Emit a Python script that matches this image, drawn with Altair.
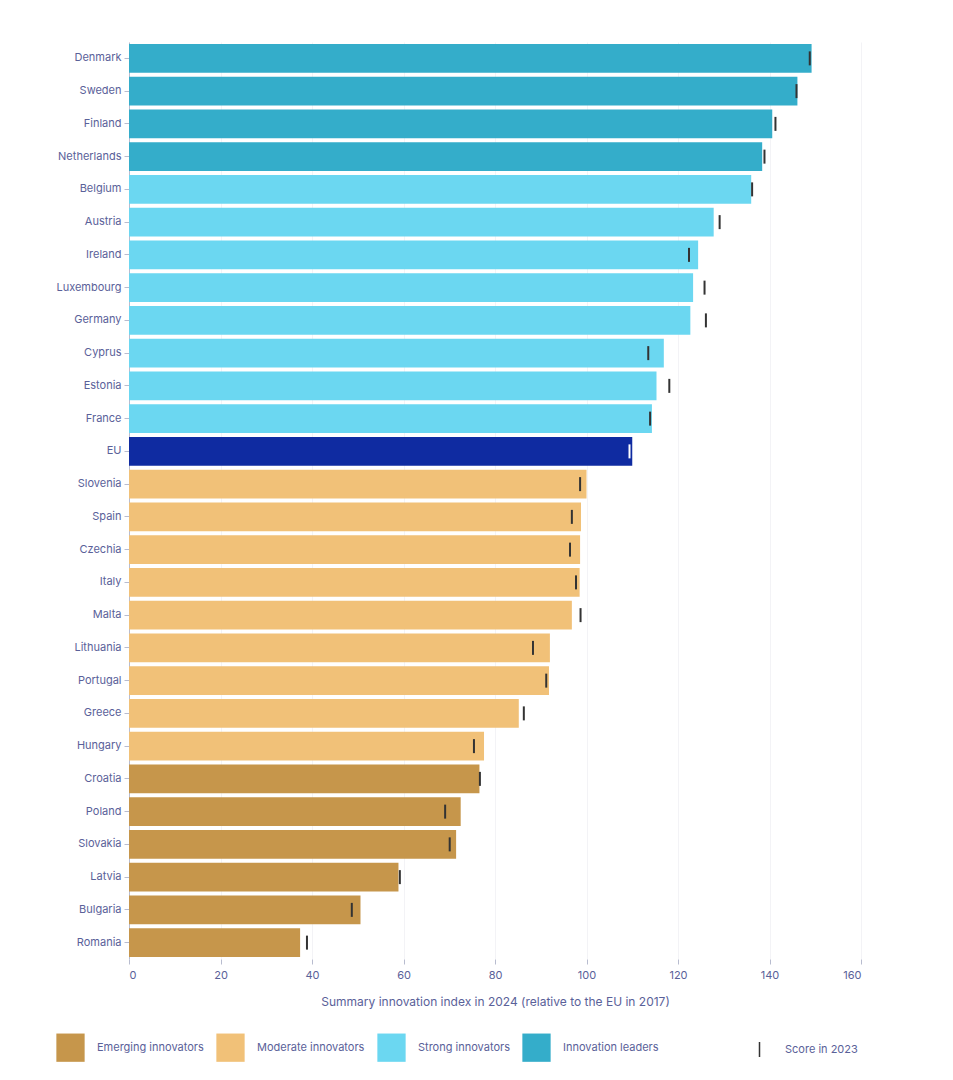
import altair as alt
import pandas as pd

countries = ["Denmark", "Sweden", "Finland", "Netherlands", "Belgium", "Austria", "Ireland",
             "Luxembourg", "Germany", "Cyprus", "Estonia", "France", "EU", "Slovenia", "Spain",
             "Czechia", "Italy", "Malta", "Lithuania", "Portugal", "Greece", "Hungary", "Croatia",
             "Poland", "Slovakia", "Latvia", "Bulgaria", "Romania"]
score_2024 = [149.2, 146.1, 140.6, 138.4, 136.0, 127.8, 124.4, 123.3, 122.7, 116.9, 115.3, 114.3,
              110.0, 100.0, 98.8, 98.6, 98.5, 96.8, 92.0, 91.8, 85.2, 77.6, 76.6, 72.5, 71.5,
              58.9, 50.6, 37.4]
score_2023 = [148.8, 145.9, 141.3, 138.9, 136.2, 129.1, 122.4, 125.8, 126.1, 113.5, 118.1, 113.9,
              109.4, 98.6, 96.8, 96.4, 97.7, 98.7, 88.3, 91.2, 86.3, 75.4, 76.7, 69.1, 70.1,
              59.2, 48.7, 38.9]
groups = (["Innovation leaders"] * 4 + ["Strong innovators"] * 8 + ["EU"]
          + ["Moderate innovators"] * 9 + ["Emerging innovators"] * 6)

group_domain = ["Emerging innovators", "Moderate innovators", "Strong innovators",
                "Innovation leaders", "EU"]
group_colors = ["#c6964b", "#f1c178", "#6bd7f1", "#34adca", "#0f2ba1"]
x_ticks = [0, 20, 40, 60, 80, 100, 120, 140, 160]

df = pd.DataFrame({
    "country": countries,
    "score_2024": score_2024,
    "score_2023": score_2023,
    "group": groups,
    "tick_label": ["EU 2023" if c == "EU" else "Score in 2023" for c in countries],
})

TXT = "#5a6199"
FONT = "Inter"

y_enc = alt.Y(
    "country:N", sort=countries, title=None,
    scale=alt.Scale(paddingInner=0.12, paddingOuter=0.06),
    axis=alt.Axis(labelFontSize=11, labelColor=TXT, labelFont=FONT, tickSize=5,
                  tickColor="#b8bccf", domainColor="#b8bccf", labelPadding=3,
                  minExtent=121, maxExtent=121, grid=False),
)

bars = alt.Chart(df).mark_bar().encode(
    x=alt.X("score_2024:Q", scale=alt.Scale(domain=[0, 160], nice=False),
            axis=alt.Axis(values=x_ticks, title="Summary innovation index in 2024 (relative to the EU in 2017)",
                          titleFontSize=12, titleFontWeight="normal", titleColor=TXT, titleFont=FONT,
                          titlePadding=16, labelFontSize=11, labelColor=TXT, labelFont=FONT,
                          domain=False, tickSize=5, tickColor="#b8bccf", labelPadding=5,
                          grid=True, gridColor="#f3f3f6")),
    y=y_enc,
    color=alt.Color("group:N", scale=alt.Scale(domain=group_domain, range=group_colors),
                    legend=alt.Legend(values=group_domain[:4], orient="none", legendX=-73, legendY=991,
                                      direction="horizontal", title=None, symbolType="square",
                                      symbolSize=800, symbolStrokeWidth=0, labelFontSize=11,
                                      labelColor=TXT, labelFont=FONT, labelOffset=12,
                                      columnPadding=12, padding=0)),
)

ticks = alt.Chart(df).mark_tick(thickness=2, size=14, opacity=1).encode(
    x="score_2023:Q",
    y=y_enc,
    color=alt.Color("tick_label:N",
                    scale=alt.Scale(domain=["Score in 2023", "EU 2023"], range=["#333333", "#ffffff"]),
                    legend=alt.Legend(values=["Score in 2023"], orient="none", legendX=623, legendY=1000,
                                      title=None, symbolType="M-0.1,-1L0.1,-1L0.1,1L-0.1,1Z",
                                      symbolSize=225, symbolStrokeWidth=0, labelFontSize=11,
                                      labelColor=TXT, labelFont=FONT, labelOffset=18, padding=0)),
)

chart = (
    alt.layer(bars, ticks)
    .resolve_scale(color="independent")
    .properties(width=732, height=917, background="white",
                padding={"left": 0, "top": 34, "right": 5, "bottom": 5})
    .configure_view(strokeWidth=0, stroke="transparent")
)

chart.save("out.html", embed_options={"renderer": "svg", "actions": False})
